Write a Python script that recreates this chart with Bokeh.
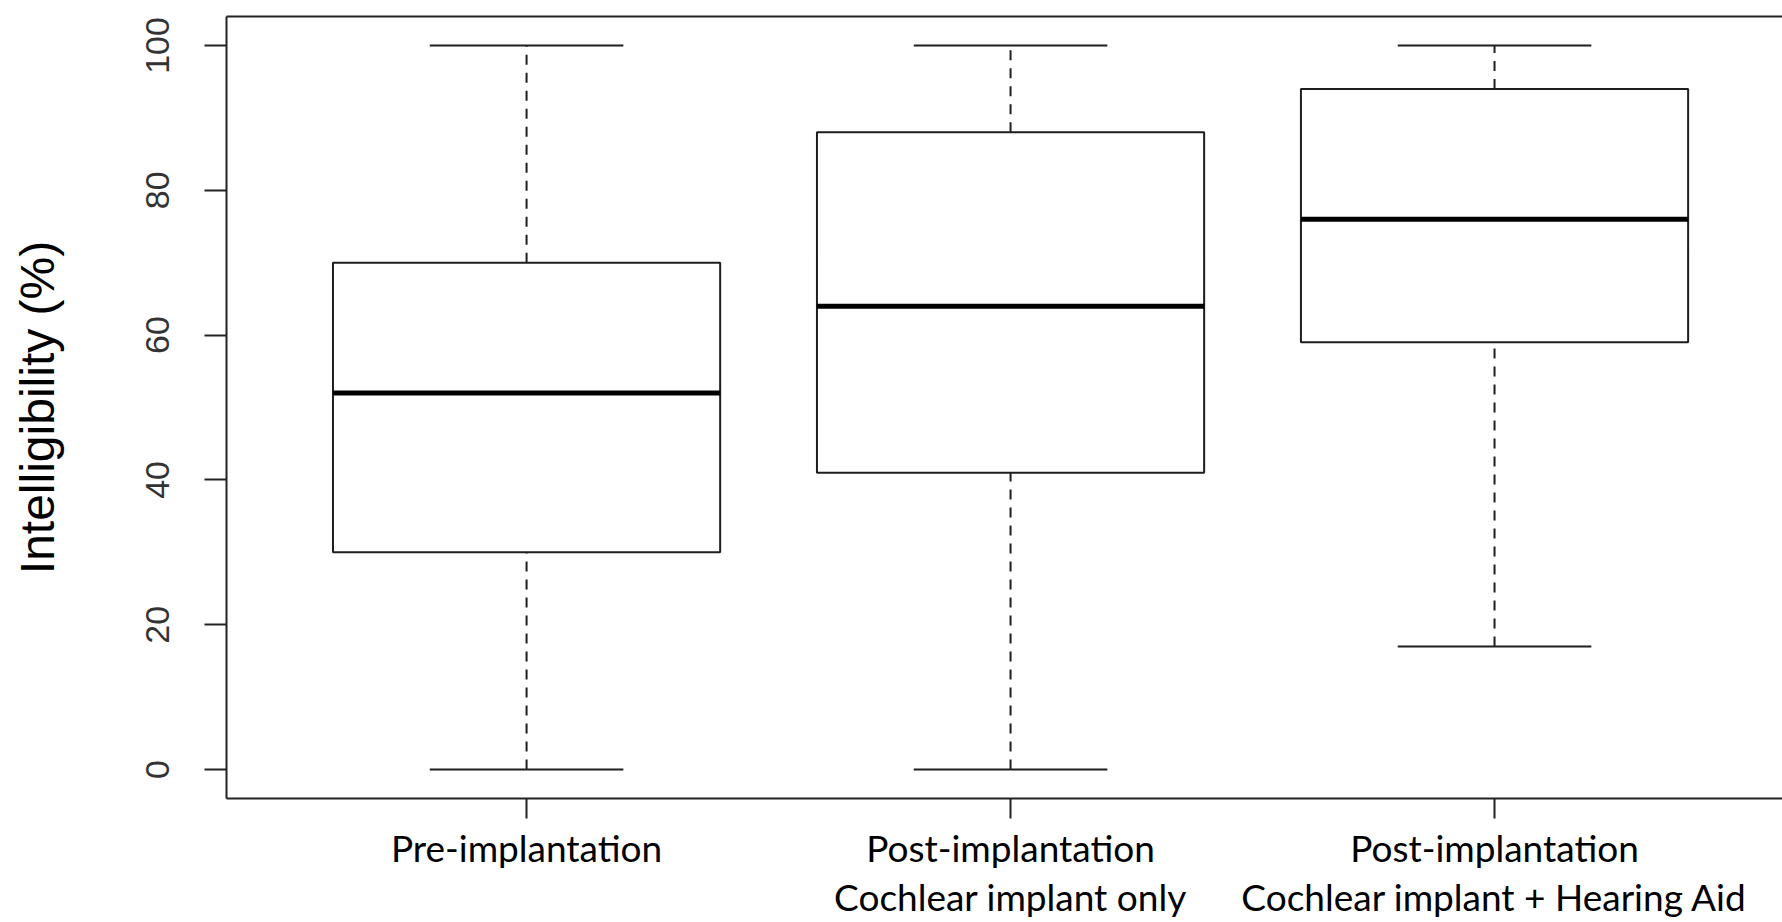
from bokeh.plotting import figure
from bokeh.models import FixedTicker, Range1d, ColumnDataSource, LinearAxis
from bokeh.embed import file_html
from bokeh.resources import INLINE

# --- data ---
categories = ["Pre-implantation",
              "Post-implantation\nCochlear implant only",
              "Post-implantation\nCochlear implant + Hearing Aid"]
positions = [1, 2, 3]
whisker_low = [0, 0, 17]
q1 = [30, 41, 59]
median = [52, 64, 76]
q3 = [70, 88, 94]
whisker_high = [100, 100, 100]
y_ticks = [0, 20, 40, 60, 80, 100]
y_title = "Intelligibility (%)"

box_half = 0.4
staple_half = 0.2

src = ColumnDataSource(dict(
    x=positions,
    left=[x - box_half for x in positions],
    right=[x + box_half for x in positions],
    sl=[x - staple_half for x in positions],
    sr=[x + staple_half for x in positions],
    lo=whisker_low, q1=q1, med=median, q3=q3, hi=whisker_high,
))

p = figure(width=1782, height=922, output_backend="svg", toolbar_location=None,
           x_range=Range1d(0.38, 3.595), y_range=Range1d(-4, 104),
           min_border_left=226, min_border_right=0, min_border_top=16,
           min_border_bottom=123)

line_col = "#1e1e1e"
# whiskers (dashed)
p.segment(x0="x", x1="x", y0="q3", y1="hi", source=src, line_color=line_col,
          line_width=2, line_dash="10 8")
p.segment(x0="x", x1="x", y0="lo", y1="q1", source=src, line_color=line_col,
          line_width=2, line_dash="10 8")
# staples
p.segment(x0="sl", x1="sr", y0="hi", y1="hi", source=src, line_color=line_col, line_width=2)
p.segment(x0="sl", x1="sr", y0="lo", y1="lo", source=src, line_color=line_col, line_width=2)
# boxes
p.quad(left="left", right="right", bottom="q1", top="q3", source=src,
       fill_color="white", line_color=line_col, line_width=2)
# medians
p.segment(x0="left", x1="right", y0="med", y1="med", source=src,
          line_color="black", line_width=5)

p.xgrid.visible = False
p.ygrid.visible = False
p.outline_line_color = None
p.background_fill_color = "white"
p.border_fill_color = "white"

xa = p.below[0]
ya = p.left[0]

# top frame line (the right side of the frame lies outside the picture)
top = LinearAxis(ticker=FixedTicker(ticks=[]), major_tick_out=0, major_tick_in=0,
                 minor_tick_out=0, minor_tick_in=0,
                 major_label_text_font_size="0px",
                 axis_line_width=2, axis_line_color="#222222")
p.add_layout(top, "above")

ya.ticker = FixedTicker(ticks=y_ticks)
ya.minor_tick_line_color = None
ya.major_tick_in = 0
ya.major_tick_out = 22
ya.major_tick_line_width = 2
ya.major_tick_line_color = "#222222"
ya.axis_line_width = 2
ya.axis_line_color = "#222222"
ya.major_label_orientation = "vertical"
ya.major_label_text_font = "Liberation Sans"
ya.major_label_text_font_size = "34px"
ya.major_label_text_color = "#333333"
ya.major_label_standoff = 35
ya.axis_label = y_title
ya.axis_label_text_font = "Liberation Sans"
ya.axis_label_text_font_size = "48px"
ya.axis_label_text_font_style = "normal"
ya.axis_label_text_color = "black"
ya.axis_label_standoff = 80

xa.ticker = FixedTicker(ticks=positions)
xa.major_label_overrides = {pos: lab for pos, lab in zip(positions, categories)}
xa.minor_tick_line_color = None
xa.major_tick_in = 0
xa.major_tick_out = 20
xa.major_tick_line_width = 2
xa.major_tick_line_color = "#222222"
xa.axis_line_width = 2
xa.axis_line_color = "#222222"
xa.major_label_text_font = "Lato"
xa.major_label_text_font_size = "37px"
xa.major_label_text_color = "black"
xa.major_label_text_line_height = 1.1
xa.major_label_standoff = 6

open("out.html", "w").write(file_html(p, INLINE))
